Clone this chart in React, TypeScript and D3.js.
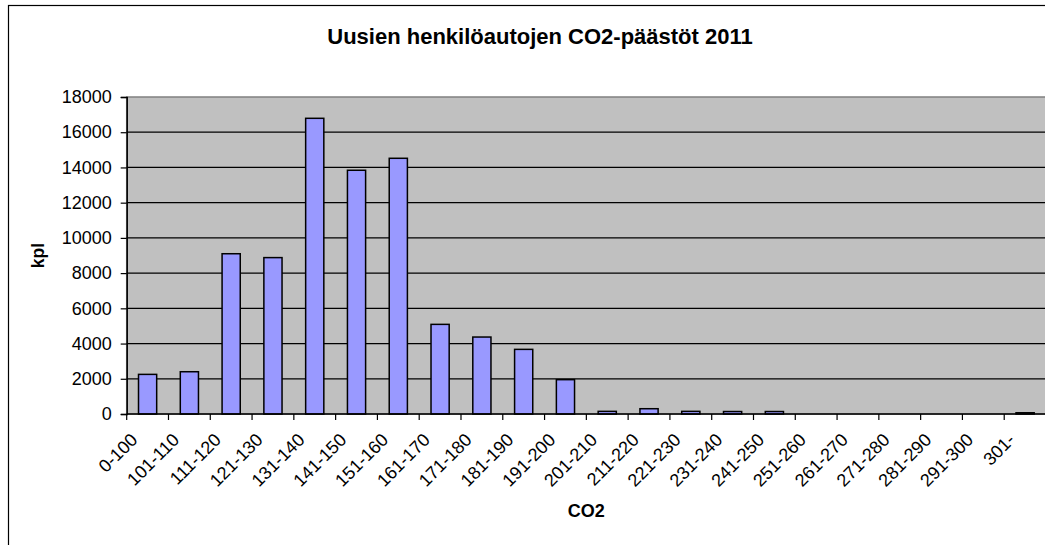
import * as d3 from 'd3';
import React, { useEffect, useRef } from 'react';

const WIDTH = 1045;
const HEIGHT = 545;
const FONT = 'Arial, "Liberation Sans", sans-serif';

const TITLE = 'Uusien henkilöautojen CO2-päästöt 2011';
const X_TITLE = 'CO2';
const Y_TITLE = 'kpl';

const categories = [
  '0-100', '101-110', '111-120', '121-130', '131-140', '141-150', '151-160',
  '161-170', '171-180', '181-190', '191-200', '201-210', '211-220', '221-230',
  '231-240', '241-250', '251-260', '261-270', '271-280', '281-290', '291-300', '301-',
];
const counts = [
  2250, 2400, 9100, 8880, 16790, 13840, 14520,
  5090, 4370, 3670, 1950, 150, 300, 150,
  140, 140, 0, 0, 0, 0, 0, 70,
];
const yTicks = [0, 2000, 4000, 6000, 8000, 10000, 12000, 14000, 16000, 18000];

const margin = { left: 126.7, top: 97, right: WIDTH + 1, bottom: 414 };

const App: React.FC = () => {
  const ref = useRef<SVGSVGElement>(null);

  useEffect(() => {
    const svg = d3.select(ref.current);
    svg.selectAll('*').remove();

    const x = d3.scaleBand<string>().domain(categories).range([margin.left, margin.right]).paddingInner(0).paddingOuter(0);
    const y = d3.scaleLinear().domain([0, 18000]).range([margin.bottom, margin.top]);
    const barW = x.bandwidth() / 2.3;

    // chart frame (cropped on the right and bottom)
    svg.append('rect')
      .attr('x', 8.5).attr('y', 5.5)
      .attr('width', WIDTH + 20).attr('height', HEIGHT + 20)
      .attr('fill', '#fff').attr('stroke', '#000').attr('stroke-width', 1.2);

    // plot area
    svg.append('rect')
      .attr('x', margin.left).attr('y', margin.top)
      .attr('width', margin.right - margin.left).attr('height', margin.bottom - margin.top)
      .attr('fill', '#c0c0c0').attr('stroke', '#808080').attr('stroke-width', 1.5);

    // gridlines
    svg.append('g')
      .selectAll('line')
      .data(yTicks.filter(t => t > 0 && t < 18000))
      .enter()
      .append('line')
      .attr('x1', margin.left).attr('x2', margin.right)
      .attr('y1', d => y(d)).attr('y2', d => y(d))
      .attr('stroke', '#000').attr('stroke-width', 1.2);

    // bars
    svg.append('g')
      .selectAll('rect')
      .data(categories.map((c, i) => ({ c, v: counts[i] })).filter(d => d.v > 0))
      .enter()
      .append('rect')
      .attr('x', d => (x(d.c) || 0) + (x.bandwidth() - barW) / 2)
      .attr('y', d => y(d.v))
      .attr('width', barW)
      .attr('height', d => y(0) - y(d.v))
      .attr('fill', '#9999ff')
      .attr('stroke', '#000')
      .attr('stroke-width', 1.5);

    // y axis
    const yAxis = svg.append('g')
      .attr('transform', `translate(${margin.left},0)`)
      .call(d3.axisLeft(y).tickValues(yTicks).tickFormat(d3.format('d')).tickSize(6).tickPadding(9));
    yAxis.select('.domain').attr('stroke', '#000').attr('stroke-width', 1.5);
    yAxis.selectAll('.tick line').attr('stroke', '#000').attr('stroke-width', 1.2);
    yAxis.selectAll('.tick text')
      .attr('fill', '#000')
      .style('font-family', FONT)
      .style('font-size', '18px');

    // x axis
    const tickPos = categories.map(c => x(c) || 0).concat([margin.right]);
    const xg = svg.append('g');
    xg.append('line')
      .attr('x1', margin.left).attr('x2', margin.right)
      .attr('y1', margin.bottom).attr('y2', margin.bottom)
      .attr('stroke', '#000').attr('stroke-width', 1.5);
    xg.selectAll('line.tk')
      .data(tickPos)
      .enter()
      .append('line')
      .attr('class', 'tk')
      .attr('x1', d => d).attr('x2', d => d)
      .attr('y1', margin.bottom).attr('y2', margin.bottom + 6)
      .attr('stroke', '#000').attr('stroke-width', 1.2);
    xg.selectAll('text')
      .data(categories)
      .enter()
      .append('text')
      .attr('transform', d => `translate(${(x(d) || 0) + x.bandwidth() / 2 - 9},441) rotate(-45)`)
      .attr('text-anchor', 'end')
      .style('font-family', FONT)
      .style('font-size', '18px')
      .text(d => d);

    // titles
    svg.append('text')
      .attr('x', 540).attr('y', 44)
      .attr('text-anchor', 'middle')
      .style('font-family', FONT).style('font-size', '22px').style('font-weight', 'bold')
      .text(TITLE);

    svg.append('text')
      .attr('x', (margin.left + margin.right) / 2).attr('y', 516.5)
      .attr('text-anchor', 'middle')
      .style('font-family', FONT).style('font-size', '18px').style('font-weight', 'bold')
      .text(X_TITLE);

    svg.append('text')
      .attr('transform', `translate(44,${(margin.top + margin.bottom) / 2}) rotate(-90)`)
      .attr('text-anchor', 'middle')
      .style('font-family', FONT).style('font-size', '17.5px').style('font-weight', 'bold')
      .text(Y_TITLE);
  }, []);

  return (
    <svg
      ref={ref}
      width={WIDTH}
      height={HEIGHT}
      viewBox={`0 0 ${WIDTH} ${HEIGHT}`}
      style={{ position: 'absolute', left: 0, top: 0, background: '#fff' }}
    />
  );
};

export default App;
